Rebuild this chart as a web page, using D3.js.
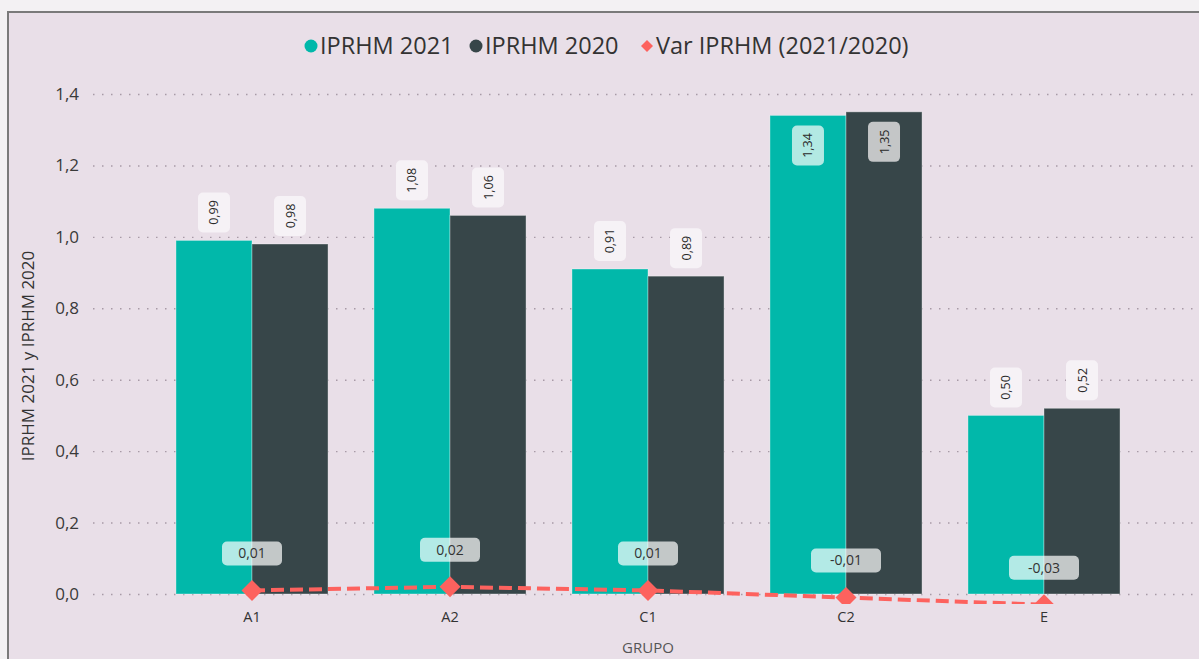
<!DOCTYPE html>
<html>
<head>
<meta charset="utf-8">
<script src="https://cdn.jsdelivr.net/npm/d3@7"></script>
<style>
  html, body { margin: 0; padding: 0; background: #f3f1f3; }
  svg { display: block; }
  text { font-family: "Open Sans", "Noto Sans", sans-serif; }
</style>
</head>
<body>
<svg id="chart" width="1199" height="659"></svg>
<script>
// Grupos y valores del indicador
const categories = ["A1", "A2", "C1", "C2", "E"];
const iprhm2021 = [0.99, 1.08, 0.91, 1.34, 0.50];
const iprhm2020 = [0.98, 1.06, 0.89, 1.35, 0.52];
const varIprhm = [0.01, 0.02, 0.01, -0.01, -0.03];
const yTicks = [0, 0.2, 0.4, 0.6, 0.8, 1.0, 1.2, 1.4];
const seriesNames = ["IPRHM 2021", "IPRHM 2020", "Var IPRHM (2021/2020)"];

const W = 1199, H = 659;
const colors = { s2021: "#01B8AA", s2020: "#374649", varLine: "#FD625E" };
const fmt = v => d3.format(".2f")(v).replace(".", ",").replace("−", "-");
const fmtTick = v => d3.format(".1f")(v).replace(".", ",");

const svg = d3.select("#chart");

// Visual frame
svg.append("rect").attr("x", 8).attr("y", 12).attr("width", W).attr("height", H)
  .attr("fill", "#e9dfe8").attr("stroke", "#7a7a7a").attr("stroke-width", 2);

const plot = { left: 153, right: 1143, top: 94, bottom: 594 };

const x = d3.scaleBand().domain(categories)
  .range([plot.left, plot.right]).paddingInner(0.232).paddingOuter(0.116);
const xs = d3.scaleBand().domain(["2021", "2020"]).range([0, x.bandwidth()]);
const y = d3.scaleLinear().domain([0, 1.4]).range([plot.bottom, plot.top]);

// Grid lines + tick labels
const yAxis = d3.axisLeft(y).tickValues(yTicks).tickFormat(fmtTick).tickSize(0).tickPadding(0);
const gy = svg.append("g").attr("transform", "translate(80,0)").call(yAxis);
gy.select(".domain").remove();
gy.selectAll("text").attr("font-size", 17).attr("fill", "#3a3a3a").attr("x", -1);
gy.selectAll(".tick").append("line")
  .attr("x1", 13).attr("x2", W - 80)
  .attr("stroke", "#a89aa6").attr("stroke-width", 1.4)
  .attr("stroke-dasharray", "1.5,7.5");

// Y axis title
svg.append("text")
  .attr("transform", `translate(34,${(plot.top + plot.bottom) / 2 + 12}) rotate(-90)`)
  .attr("text-anchor", "middle").attr("font-size", 17).attr("fill", "#333")
  .text("IPRHM 2021 y IPRHM 2020");

// Bars
const rows = categories.map((c, i) => ({ c, v21: iprhm2021[i], v20: iprhm2020[i], dv: varIprhm[i] }));
const groups = svg.append("g").selectAll("g").data(rows).join("g")
  .attr("transform", d => `translate(${x(d.c)},0)`);

const barData = d => [
  { key: "2021", v: d.v21, color: colors.s2021, inBg: "#b2e9e3" },
  { key: "2020", v: d.v20, color: colors.s2020, inBg: "#c4c6c7" }
];

groups.selectAll("rect.bar").data(barData).join("rect").attr("class", "bar")
  .attr("x", b => xs(b.key)).attr("width", xs.bandwidth())
  .attr("y", b => y(b.v)).attr("height", b => y(0) - y(b.v))
  .attr("fill", b => b.color)
  .attr("stroke", "rgba(255,255,255,0.35)").attr("stroke-width", 1);

// Bar value labels (vertical, in rounded boxes)
const boxW = 32, boxH = 40, gap = 8;
groups.selectAll("g.lab").data(barData).join("g").attr("class", "lab")
  .each(function (b) {
    const g = d3.select(this);
    const cx = xs(b.key) + xs.bandwidth() / 2;
    const outside = y(b.v) - gap - boxH >= plot.top - 10;
    const cy = outside ? y(b.v) - gap - boxH / 2 : y(b.v) + 10 + boxH / 2;
    g.append("rect").attr("x", cx - boxW / 2).attr("y", cy - boxH / 2)
      .attr("width", boxW).attr("height", boxH).attr("rx", 5)
      .attr("fill", outside ? "#f6f2f6" : b.inBg);
    g.append("text").attr("transform", `translate(${cx + 4.5},${cy}) rotate(-90)`)
      .attr("text-anchor", "middle").attr("font-size", 12.5).attr("fill", "#2a2a2a")
      .text(fmt(b.v));
  });

// Variation line on the same value scale
svg.append("clipPath").attr("id", "plotclip")
  .append("rect").attr("x", 0).attr("y", 0).attr("width", W).attr("height", 604);
const lineLayer = svg.append("g").attr("clip-path", "url(#plotclip)");
const cxOf = d => x(d.c) + x.bandwidth() / 2;
lineLayer.append("path").datum(rows)
  .attr("d", d3.line().x(cxOf).y(d => y(d.dv)))
  .attr("fill", "none").attr("stroke", colors.varLine).attr("stroke-width", 4)
  .attr("stroke-dasharray", "13,6");
lineLayer.selectAll("path.mk").data(rows).join("path").attr("class", "mk")
  .attr("d", d3.symbol().type(d3.symbolSquare).size(220))
  .attr("transform", d => `translate(${cxOf(d)},${y(d.dv)}) rotate(45)`)
  .attr("fill", colors.varLine);

// Variation labels
const vl = svg.append("g").selectAll("g").data(rows).join("g")
  .attr("transform", d => `translate(${cxOf(d)},${y(d.dv) - 37})`);
vl.append("rect").attr("x", d => d.dv < 0 ? -35 : -30).attr("y", -12)
  .attr("width", d => d.dv < 0 ? 70 : 60).attr("height", 24).attr("rx", 5)
  .attr("fill", "rgba(255,255,255,0.7)");
vl.append("text").attr("text-anchor", "middle").attr("dy", "0.35em")
  .attr("font-size", 14).attr("fill", "#333").text(d => fmt(d.dv));

// X axis labels
const xAxis = d3.axisBottom(x).tickSize(0).tickPadding(0);
const gx = svg.append("g").attr("transform", "translate(0,611)").call(xAxis);
gx.select(".domain").remove();
gx.selectAll("text").attr("font-size", 14.5).attr("fill", "#333").attr("dy", "0.75em");
svg.append("text").attr("x", (plot.left + plot.right) / 2).attr("y", 653)
  .attr("text-anchor", "middle").attr("font-size", 15).attr("fill", "#555").text("GRUPO");

// Legend
const legend = svg.append("g").attr("transform", "translate(0,46)");
const legItems = [
  { name: seriesNames[0], color: colors.s2021, shape: "circle", x: 311 },
  { name: seriesNames[1], color: colors.s2020, shape: "circle", x: 476 },
  { name: seriesNames[2], color: colors.varLine, shape: "diamond", x: 647 }
];
legItems.forEach(it => {
  if (it.shape === "circle") {
    legend.append("circle").attr("cx", it.x).attr("cy", 0).attr("r", 6.5).attr("fill", it.color);
  } else {
    legend.append("path").attr("d", d3.symbol().type(d3.symbolSquare).size(72))
      .attr("transform", `translate(${it.x},0) rotate(45)`).attr("fill", it.color);
  }
  legend.append("text").attr("x", it.x + 9).attr("y", 0).attr("dy", "0.35em")
    .attr("font-size", 23.5).attr("fill", "#333").text(it.name);
});
</script>
</body>
</html>
